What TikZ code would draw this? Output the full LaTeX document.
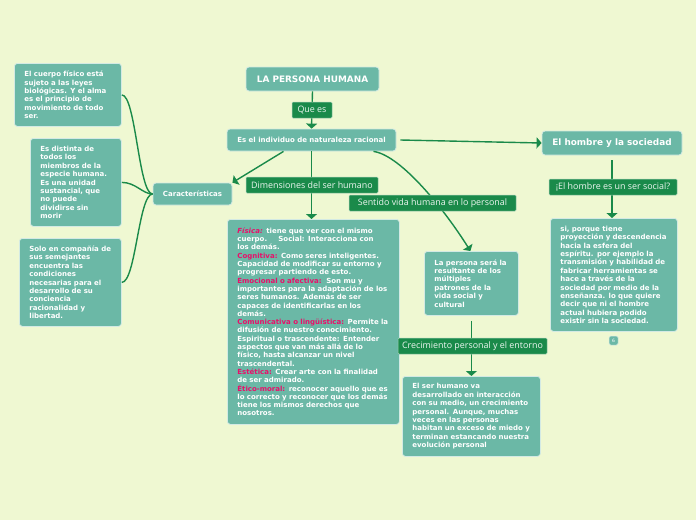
\documentclass[tikz,border=0pt]{standalone}
\usepackage{fontspec}
\setsansfont{DejaVu Sans}
\newfontfamily\lblfont{Open Sans}
\usetikzlibrary{arrows.meta}
\definecolor{bg}{HTML}{EFF8D2}
\definecolor{boxc}{HTML}{6BB8A6}
\definecolor{lblc}{HTML}{1A8A4A}
\definecolor{edgec}{HTML}{1A8A4A}
\definecolor{hot}{HTML}{E8106A}
\tikzset{
  box/.style={fill=boxc, draw=white!70!boxc, line width=0.8pt, rounded corners=3pt,
    text=white, font=\sffamily\bfseries\fontsize{7}{8.4}\selectfont, align=left,
    anchor=north west, inner xsep=10pt, inner ysep=4pt},
  head/.style={fill=boxc, draw=white!70!boxc, line width=0.8pt, rounded corners=3pt,
    text=white, font=\sffamily\bfseries\fontsize{8.9}{10}\selectfont, align=center, inner sep=0pt},
  lbl/.style={fill=lblc, draw=white!60!lblc, line width=0.5pt, text=white!92!lblc,
    font=\lblfont\fontsize{8.9}{10}\selectfont, inner sep=0pt, minimum height=16pt, rounded corners=1pt},
  conn/.style={draw=edgec, line width=1.4pt},
  arr/.style={conn, -{Triangle[width=11pt,length=5pt]}}
}
\newcommand{\hot}[1]{\textcolor{hot}{#1}}
\begin{document}
\begin{tikzpicture}[x=1pt,y=-1pt]
\fill[bg] (0,0) rectangle (696,520);
\useasboundingbox (0,0) rectangle (696,520);

% header nodes
\node[head, minimum width=133pt, minimum height=24pt] (persona) at (312.5,79) {LA PERSONA HUMANA};
\node[head, minimum width=169pt, minimum height=22pt, font=\sffamily\bfseries\fontsize{7}{8}\selectfont] (esel) at (311.5,140) {Es el individuo de naturaleza racional};
\node[head, minimum width=79pt, minimum height=22pt, font=\sffamily\bfseries\fontsize{7}{8}\selectfont] (cara) at (192.5,194) {Características};
\node[head, minimum width=140pt, minimum height=24pt] (hombre) at (612,143) {El hombre y la sociedad};

% text boxes
\node[box, text width=87pt, minimum height=63pt] (b1) at (14,63) {El cuerpo físico está\\sujeto a las leyes\\biológicas. Y el alma\\es el principio de\\movimiento de todo\\ser.};
\node[box, text width=71pt, minimum height=88pt] (b2) at (30,138) {Es distinta de\\todos los\\miembros de la\\especie humana.\\Es una unidad\\sustancial, que\\no puede\\dividirse sin\\morir};
\node[box, text width=82pt, minimum height=88pt] (b3) at (19,238) {Solo en compañía de\\sus semejantes\\encuentra las\\condiciones\\necesarias para el\\desarrollo de su\\conciencia\\racionalidad y\\libertad.};
\node[box, text width=152pt, minimum height=205pt, font=\sffamily\bfseries\fontsize{7}{8.3}\selectfont] (dimbox) at (227,219) {\hot{\itshape Física:} tiene que ver con el mismo\\cuerpo.\hspace{1.6em}Social: Interacciona con\\los demás.\\\hot{Cognitiva:} Como seres inteligentes.\\Capacidad de modificar su entorno y\\progresar partiendo de esto.\\\hot{Emocional o afectiva:}\ \ Son mu y\\importantes para la adaptación de los\\seres humanos. Además de ser\\capaces de identificarlas en los\\demás.\\\hot{Comunicativa o lingüística:} Permite la\\difusión de nuestro conocimiento.\\Espiritual o trascendente: Entender\\aspectos que van más allá de lo\\físico, hasta alcanzar un nivel\\trascendental.\\\hot{Estética:} Crear arte con la finalidad\\de ser admirado.\\\hot{Ético-moral:} reconocer aquello que es\\lo correcto y reconocer que los demás\\tiene los mismos derechos que\\nosotros.};
\node[box, text width=74pt, minimum height=64pt] (pers) at (424,251) {La persona será la\\resultante de los\\múltiples\\patrones de la\\vida social y\\cultural};
\node[box, text width=118pt, minimum height=80pt] (ser) at (402,376) {El ser humano va\\desarrollado en interacción\\con su medio, un crecimiento\\personal. Aunque, muchas\\veces en las personas\\habitan un exceso de miedo y\\terminan estancando nuestra\\evolución personal};
\node[box, text width=107pt, minimum height=113pt] (si) at (550,218) {si, porque tiene\\proyección y descendencia\\hacia la esfera del\\espíritu. por ejemplo la\\transmisión y habilidad de\\fabricar herramientas se\\hace a través de la\\sociedad por medio de la\\enseñanza. lo que quiere\\decir que ni el hombre\\actual hubiera podido\\existir sin la sociedad.};
\node[fill=boxc, draw=white!70!boxc, line width=0.5pt, rounded corners=1.5pt, minimum width=9pt, minimum height=9pt, inner sep=0pt, text=white, font=\sffamily\fontsize{4.5}{5}\selectfont] (six) at (613.5,340.5) {6};

% connectors
\draw[arr] (persona.south) -- (esel.north);
\draw[arr] ([xshift=-28pt]esel.south) -- (cara.north east);
\draw[arr] (esel.south) -- (dimbox.north -| esel.south);
\draw[arr] ([xshift=62pt]esel.south) .. controls +(28,4) and +(-25,-40) .. ([xshift=-1pt]pers.north);
\draw[arr] ([xshift=4pt]esel.east) -- (hombre.west);
\draw[arr, shorten <=5pt] (hombre.south) -- (si.north -| hombre.south);
\draw[arr, shorten <=5pt] (pers.south) -- (ser.north -| pers.south);
\draw[conn] (b1.east) .. controls +(14,0) and +(-14,0) .. (cara.west);
\draw[conn] (b2.east) .. controls +(14,0) and +(-10,0) .. (cara.west);
\draw[conn] (b3.east) .. controls +(14,0) and +(-14,0) .. (cara.west);

% connector labels
\node[lbl, minimum width=40pt] (lq) at (312,110) {Que es};
\node[lbl, minimum width=132pt] (ld) at (312,185) {Dimensiones del ser humano};
\node[lbl, minimum width=167pt] (ls) at (432.5,203) {Sentido vida humana en lo personal};
\node[lbl, minimum width=149pt] (lc) at (472.5,346) {Crecimiento personal y el entorno};
\node[lbl, minimum width=128pt] (lh) at (613,187) {¡El hombre es un ser social?};
\end{tikzpicture}
\end{document}
